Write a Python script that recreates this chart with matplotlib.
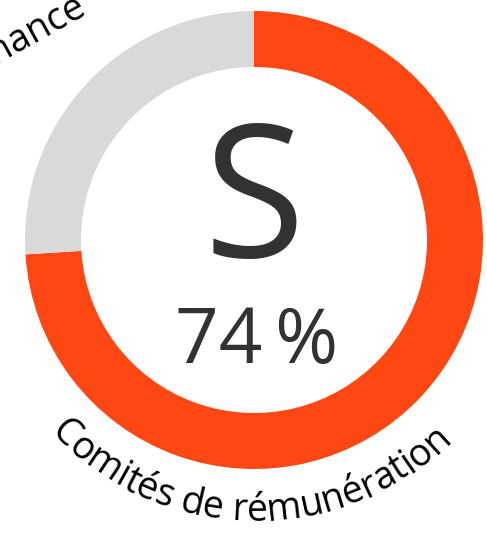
import numpy as np
import matplotlib
matplotlib.use("Agg")
import matplotlib.pyplot as plt
from matplotlib.font_manager import FontProperties

# data
segments = ["Conforme", "Reste"]
shares = [74, 26]
seg_colors = ["#FF4713", "#D9D9D9"]
grade = "S"
pct_label = "74\u2009%"
ring_label = "Comités de rémunération"
neighbour_label = "Gouvernance"

W, H = 487, 534
fig = plt.figure(figsize=(W / 100, H / 100), dpi=100)
ax = fig.add_axes([0, 0, 1, 1])

cx, cy = 254, H - 240
R, ring_w = 229, 56

ax.pie(shares, colors=seg_colors, startangle=90, counterclock=False,
       center=(cx, cy), radius=R,
       wedgeprops=dict(width=ring_w, linewidth=0))

ax.set_xlim(0, W)
ax.set_ylim(0, H)
ax.set_aspect("equal")
ax.axis("off")

txt_col = "#333132"
fam = ["Open Sans", "DejaVu Sans"]

ax.text(cx, H - 257, grade, fontsize=133, family=fam, color=txt_col,
        ha="center", va="baseline")
ax.text(cx + 3, H - 363, pct_label, fontsize=55, family=fam, color=txt_col,
        ha="center", va="baseline")

# curved label along the bottom of the ring
fs = 27
fp = FontProperties(family=fam, size=fs)
renderer = fig.canvas.get_renderer()
widths = [renderer.get_text_width_height_descent(ch if ch != " " else "a a", fp, ismath=False)[0]
          for ch in ring_label]
sp = renderer.get_text_width_height_descent("aa", fp, ismath=False)[0]
widths = [w - sp if ch == " " else w for w, ch in zip(widths, ring_label)]
r_base = 281
total = sum(widths) / r_base
phi = -np.pi / 2 - total / 2 - 0.015
for ch, w in zip(ring_label, widths):
    a = phi + (w / 2) / r_base
    x = cx + r_base * np.cos(a)
    y = cy + r_base * np.sin(a)
    ax.text(x, y, ch, fontproperties=fp, color="black", ha="center", va="baseline",
            rotation=np.degrees(a) + 90, rotation_mode="anchor")
    phi += w / r_base

# label of the neighbouring chart, cut by the frame
ax.text(88, H - 13, neighbour_label, fontsize=fs, family=fam, color="black",
        ha="right", va="baseline", rotation=29, rotation_mode="anchor")

fig.savefig("out.png", dpi=100)
